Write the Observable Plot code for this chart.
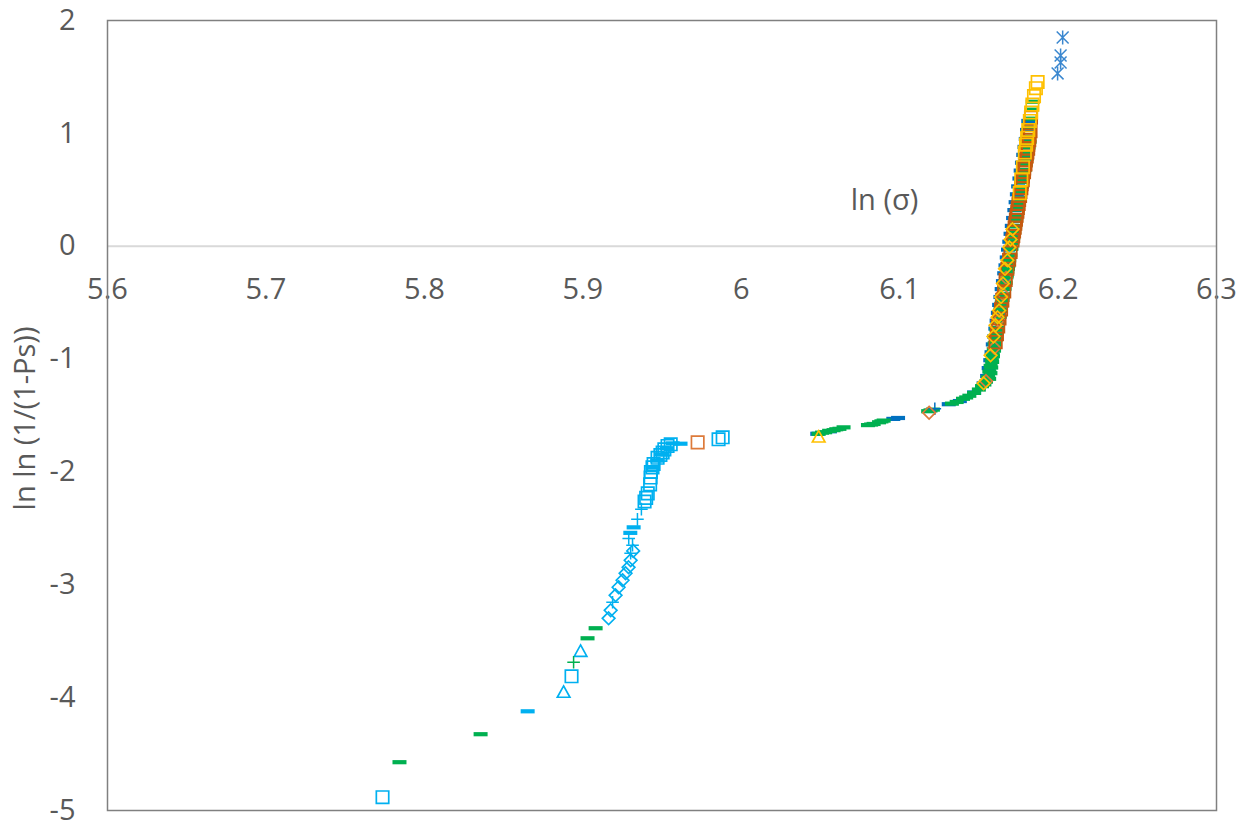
<!DOCTYPE html>
<html>
<head>
<meta charset="utf-8">
<script src="https://cdn.jsdelivr.net/npm/d3@7"></script>
<script src="https://cdn.jsdelivr.net/npm/@observablehq/plot@0.6"></script>
<style>
  body { margin: 0; background: #ffffff; }
  #chart svg { display: block; }
</style>
</head>
<body>
<div id="chart"></div>
<script>
// Axis ticks
const xTicks = [5.6, 5.7, 5.8, 5.9, 6.0, 6.1, 6.2, 6.3];
const xTickLabels = ["5.6", "5.7", "5.8", "5.9", "6", "6.1", "6.2", "6.3"];
const yTicks = [-5, -4, -3, -2, -1, 0, 1, 2];
const xTitle = "ln (σ)";
const yTitle = "ln ln (1/(1-Ps))";

// Lower branch
const lbSquareX = [5.7736, 5.8929, 5.9390, 5.9400, 5.9410, 5.9425, 5.9428, 5.9430, 5.9440, 5.9447, 5.9472, 5.9490, 5.9504, 5.9515, 5.9535, 5.9555, 5.9857, 5.9883];
const lbSquareY = [-4.882, -3.811, -2.262, -2.230, -2.190, -2.110, -2.050, -2.000, -1.960, -1.930, -1.875, -1.850, -1.828, -1.800, -1.770, -1.755, -1.711, -1.693];
const lbDashX = [5.8652, 5.9300, 5.9321, 5.9440, 5.9470, 5.9500, 5.9530, 5.9567, 5.9617];
const lbDashY = [-4.121, -2.540, -2.491, -1.960, -1.900, -1.845, -1.790, -1.747, -1.750];
const lbPlusX = [5.9188, 5.9302, 5.9314, 5.9290, 5.9345, 5.9370];
const lbPlusY = [-3.155, -2.721, -2.650, -2.590, -2.420, -2.330];
const lbDiamondX = [5.9163, 5.9176, 5.9207, 5.9226, 5.9251, 5.9270, 5.9289, 5.9302, 5.9318];
const lbDiamondY = [-3.297, -3.226, -3.093, -3.022, -2.960, -2.898, -2.845, -2.783, -2.700];
const lbTriangleX = [5.8879, 5.8986];
const lbTriangleY = [-3.952, -3.589];
const lowGreenDashX = [5.7843, 5.8355, 5.9030, 5.9081];
const lowGreenDashY = [-4.572, -4.324, -3.474, -3.385];
const lowGreenPlusX = [5.8942];
const lowGreenPlusY = [-3.686];
const lowOrangeSquareX = [5.9725];
const lowOrangeSquareY = [-1.738];

// Upper branch
const upBlueDashX = [6.0480, 6.0560, 6.0960, 6.0990, 6.1310, 6.1380, 6.1470, 6.1530, 6.1552, 6.1562, 6.1572, 6.1580, 6.1588, 6.1596, 6.1604, 6.1612, 6.1620, 6.1628, 6.1636, 6.1644, 6.1652, 6.1660, 6.1668, 6.1676, 6.1684, 6.1692, 6.1700, 6.1708, 6.1716, 6.1724, 6.1732, 6.1740, 6.1748, 6.1756, 6.1764, 6.1772, 6.1780, 6.1788, 6.1796, 6.1804, 6.1812];
const upBlueDashY = [-1.662, -1.640, -1.530, -1.522, -1.400, -1.372, -1.296, -1.215, -1.150, -1.080, -1.010, -0.940, -0.870, -0.800, -0.730, -0.660, -0.590, -0.520, -0.450, -0.380, -0.310, -0.240, -0.170, -0.100, -0.030, 0.040, 0.110, 0.180, 0.250, 0.320, 0.390, 0.460, 0.530, 0.600, 0.670, 0.740, 0.810, 0.880, 0.950, 1.030, 1.110];
const upGreenDashX = [6.0489, 6.0510, 6.0530, 6.0555, 6.0583, 6.0600, 6.0620, 6.0646, 6.0800, 6.0820, 6.0836, 6.0870, 6.0885, 6.0899, 6.1180, 6.1195, 6.1210, 6.1330, 6.1360, 6.1400, 6.1420, 6.1440, 6.1470, 6.1500, 6.1520, 6.1545, 6.1558, 6.1566, 6.1574, 6.1582, 6.1588, 6.1594, 6.1600, 6.1606, 6.1612, 6.1620, 6.1628, 6.1636, 6.1644, 6.1652, 6.1660, 6.1668, 6.1676, 6.1684, 6.1690, 6.1698, 6.1705, 6.1712, 6.1720, 6.1728, 6.1736, 6.1744, 6.1752, 6.1760, 6.1768, 6.1776, 6.1784, 6.1792, 6.1800, 6.1808, 6.1816, 6.1824, 6.1832, 6.1840];
const upGreenDashY = [-1.662, -1.652, -1.648, -1.636, -1.630, -1.622, -1.618, -1.605, -1.585, -1.580, -1.575, -1.560, -1.552, -1.545, -1.462, -1.455, -1.448, -1.395, -1.380, -1.352, -1.340, -1.325, -1.300, -1.270, -1.240, -1.200, -1.160, -1.110, -1.060, -1.010, -0.960, -0.910, -0.860, -0.800, -0.740, -0.680, -0.620, -0.560, -0.500, -0.440, -0.380, -0.320, -0.260, -0.200, -0.140, -0.080, -0.020, 0.040, 0.110, 0.180, 0.250, 0.330, 0.410, 0.490, 0.570, 0.650, 0.730, 0.810, 0.890, 0.970, 1.050, 1.130, 1.210, 1.280];
const upGreenDash2X = [6.1535, 6.1565, 6.1573, 6.1578, 6.1584, 6.1589, 6.1596, 6.1602, 6.1608, 6.1614, 6.1620, 6.1626, 6.1632, 6.1638, 6.1644, 6.1650, 6.1656, 6.1662, 6.1668, 6.1674, 6.1680, 6.1686, 6.1692, 6.1698, 6.1704, 6.1711, 6.1717, 6.1723, 6.1729, 6.1735, 6.1741, 6.1747, 6.1753, 6.1759, 6.1765, 6.1771, 6.1777, 6.1783, 6.1789, 6.1796, 6.1802, 6.1808, 6.1814, 6.1820];
const upGreenDash2Y = [-1.225, -1.175, -1.125, -1.075, -1.025, -0.975, -0.925, -0.875, -0.825, -0.775, -0.725, -0.675, -0.625, -0.575, -0.525, -0.475, -0.425, -0.375, -0.325, -0.275, -0.225, -0.175, -0.125, -0.075, -0.025, 0.025, 0.075, 0.125, 0.175, 0.225, 0.275, 0.325, 0.375, 0.425, 0.475, 0.525, 0.575, 0.625, 0.675, 0.725, 0.775, 0.825, 0.875, 0.925];
const upBluePlusX = [6.1222];
const upBluePlusY = [-1.440];
const upYellowDiamondX = [6.1530, 6.1574, 6.1592, 6.1605, 6.1618, 6.1628, 6.1640, 6.1652, 6.1665, 6.1680, 6.1693, 6.1700, 6.1712];
const upYellowDiamondY = [-1.215, -0.967, -0.800, -0.700, -0.630, -0.570, -0.450, -0.330, -0.200, -0.125, -0.010, 0.060, 0.150];
const upOrangeDiamondX = [6.1186, 6.1545, 6.1598, 6.1620, 6.1648, 6.1672];
const upOrangeDiamondY = [-1.475, -1.195, -0.900, -0.660, -0.420, -0.280];
const upOrangeSquareX = [6.1606, 6.1614, 6.1622, 6.1630, 6.1640, 6.1648, 6.1660, 6.1669, 6.1680, 6.1691, 6.1700, 6.1712, 6.1717, 6.1722, 6.1726, 6.1730, 6.1734, 6.1738, 6.1743, 6.1746, 6.1751, 6.1754, 6.1760, 6.1762, 6.1768, 6.1770, 6.1777, 6.1778, 6.1785, 6.1786, 6.1794, 6.1796, 6.1802, 6.1806, 6.1811, 6.1812, 6.1818, 6.1820, 6.1826, 6.1829];
const upOrangeSquareY = [-0.850, -0.780, -0.710, -0.640, -0.560, -0.480, -0.400, -0.300, -0.200, -0.120, -0.050, 0.050, 0.090, 0.130, 0.165, 0.200, 0.235, 0.270, 0.305, 0.340, 0.375, 0.410, 0.445, 0.480, 0.515, 0.550, 0.585, 0.620, 0.655, 0.690, 0.725, 0.760, 0.795, 0.830, 0.865, 0.900, 0.940, 0.980, 1.020, 1.140];
const upYellowSquareX = [6.1871, 6.1860, 6.1848, 6.1838, 6.1830, 6.1822, 6.1812, 6.1805, 6.1798, 6.1790, 6.1778, 6.1768, 6.1758];
const upYellowSquareY = [1.455, 1.400, 1.330, 1.255, 1.185, 1.110, 1.030, 0.960, 0.900, 0.830, 0.700, 0.590, 0.470];
const upYellowTriangleX = [6.0489];
const upYellowTriangleY = [-1.690];
const upStarX = [6.2029, 6.2016, 6.2016, 6.1997];
const upStarY = [1.849, 1.690, 1.628, 1.531];

// Marker outlines; the radius comes back from the symbol area Plot passes in
const rad = size => Math.sqrt(size / Math.PI);
const shapes = {
  square: {draw(c, size) { const r = rad(size); c.rect(-r, -r, 2 * r, 2 * r); }},
  diamond: {draw(c, size) { const r = rad(size); c.moveTo(0, -r); c.lineTo(r, 0); c.lineTo(0, r); c.lineTo(-r, 0); c.closePath(); }},
  triangle: {draw(c, size) { const r = rad(size); c.moveTo(0, -r); c.lineTo(r, r * 0.8); c.lineTo(-r, r * 0.8); c.closePath(); }},
  dash: {draw(c, size) { const r = rad(size); c.rect(-r, -r * 0.3, 2 * r, r * 0.6); }},
  plus: {draw(c, size) { const r = rad(size); c.moveTo(-r, 0); c.lineTo(r, 0); c.moveTo(0, -r); c.lineTo(0, r); }},
  star: {draw(c, size) { const r = rad(size); const d = r * 0.85;
    c.moveTo(-d, -d); c.lineTo(d, d); c.moveTo(d, -d); c.lineTo(-d, d); c.moveTo(0, -r); c.lineTo(0, r); }}
};
const radius = {square: 6.2, diamond: 6.3, triangle: 6.3, dash: 7, plus: 6.3, star: 7};

const LIGHT_BLUE = "#00B0F0", GREEN = "#00B050", BLUE = "#0070C0",
      ORANGE = "#C55A11", ORANGE_LIGHT = "#DD7A3A", YELLOW = "#FFC000", STAR_BLUE = "#3A87CF";

// Draw order: later series sit on top
const series = [
  {x: lbSquareX, y: lbSquareY, shape: "square", color: LIGHT_BLUE},
  {x: lbDiamondX, y: lbDiamondY, shape: "diamond", color: LIGHT_BLUE},
  {x: lbTriangleX, y: lbTriangleY, shape: "triangle", color: LIGHT_BLUE},
  {x: lbPlusX, y: lbPlusY, shape: "plus", color: LIGHT_BLUE},
  {x: lbDashX, y: lbDashY, shape: "dash", color: LIGHT_BLUE, filled: true},
  {x: lowGreenDashX, y: lowGreenDashY, shape: "dash", color: GREEN, filled: true},
  {x: lowGreenPlusX, y: lowGreenPlusY, shape: "plus", color: GREEN},
  {x: lowOrangeSquareX, y: lowOrangeSquareY, shape: "square", color: ORANGE_LIGHT},
  {x: upBlueDashX, y: upBlueDashY, shape: "dash", color: BLUE, filled: true},
  {x: upGreenDashX, y: upGreenDashY, shape: "dash", color: GREEN, filled: true},
  {x: upGreenDash2X, y: upGreenDash2Y, shape: "dash", color: GREEN, filled: true},
  {x: upBluePlusX, y: upBluePlusY, shape: "plus", color: BLUE},
  {x: upOrangeDiamondX, y: upOrangeDiamondY, shape: "diamond", color: ORANGE_LIGHT},
  {x: upOrangeSquareX, y: upOrangeSquareY, shape: "square", color: ORANGE},
  {x: upYellowDiamondX, y: upYellowDiamondY, shape: "diamond", color: YELLOW},
  {x: upYellowSquareX, y: upYellowSquareY, shape: "square", color: YELLOW},
  {x: upYellowTriangleX, y: upYellowTriangleY, shape: "triangle", color: YELLOW},
  {x: upStarX, y: upStarY, shape: "star", color: STAR_BLUE}
];

const seriesMarks = series.map(s => Plot.dot(
  s.x.map((x, i) => ({x, y: s.y[i]})),
  {
    x: "x", y: "y",
    symbol: shapes[s.shape],
    r: radius[s.shape],
    fill: s.filled ? s.color : "none",
    stroke: s.filled ? "none" : s.color,
    strokeWidth: s.shape === "plus" || s.shape === "star" ? 1.5 : 1.7
  }
));

const chart = Plot.plot({
  width: 1244,
  height: 825,
  marginLeft: 107,
  marginRight: 28,
  marginTop: 20,
  marginBottom: 15,
  style: {fontFamily: "'Open Sans', sans-serif", fontSize: "29px", color: "#595959", background: "#ffffff", overflow: "visible"},
  x: {domain: [5.6, 6.3], axis: null},
  y: {domain: [-5, 2], ticks: yTicks, tickSize: 0, tickPadding: 32, tickFormat: d => String(d), label: null},
  marks: [
    Plot.ruleY([0], {stroke: "#d9d9d9", strokeWidth: 2}),
    Plot.text(xTicks, {x: d => d, y: 0, text: (d, i) => xTickLabels[i], dy: 44, fill: "#595959"}),
    ...seriesMarks,
    Plot.frame({stroke: "#808080", strokeWidth: 1.5}),
    Plot.text([xTitle], {text: d => d, frameAnchor: "top-left", lineAnchor: "middle", dx: 777, dy: 180, textAnchor: "middle", fill: "#595959"}),
    Plot.text([yTitle], {text: d => d, frameAnchor: "left", lineAnchor: "middle", rotate: -90, dx: -82, dy: 3, textAnchor: "middle", fill: "#595959"})
  ]
});

document.getElementById("chart").appendChild(chart);
</script>
</body>
</html>
